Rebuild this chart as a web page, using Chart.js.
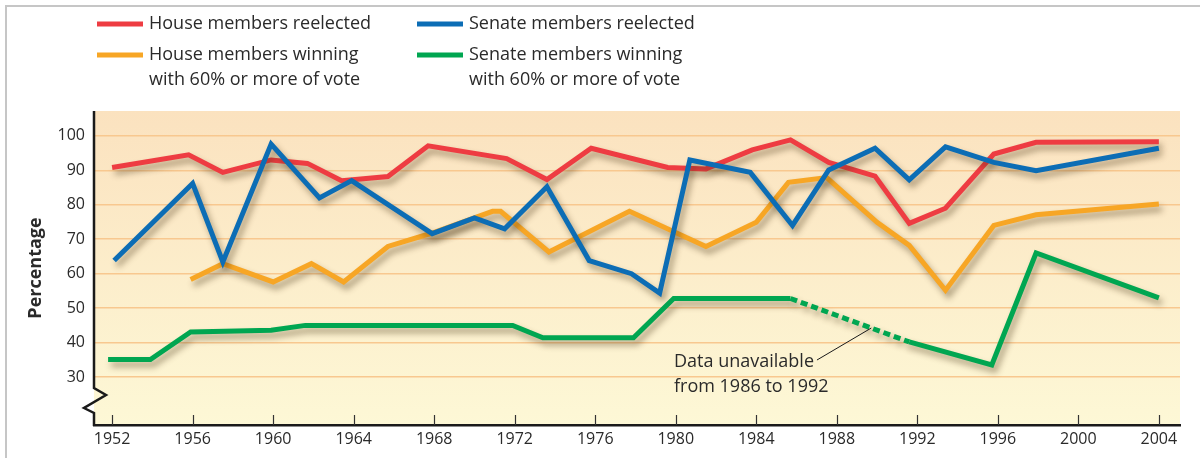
<!DOCTYPE html>
<html>
<head>
<meta charset="utf-8">
<title>Incumbents reelected, 1952-2004</title>
<script src="https://cdn.jsdelivr.net/npm/chart.js@4.4.0/dist/chart.umd.min.js"></script>
<style>
  html, body { margin: 0; padding: 0; background: #fff; }
  #chart { display: block; }
</style>
</head>
<body>
<canvas id="chart" width="1200" height="458"></canvas>
<script>
const FONT = "'Open Sans', sans-serif";
const INK = '#2a2a2a';

const xTicks = [1952, 1956, 1960, 1964, 1968, 1972, 1976, 1980, 1984, 1988, 1992, 1996, 2000, 2004];
const yTicks = [30, 40, 50, 60, 70, 80, 90, 100];

// House members reelected
const houseYears = [1952, 1955.8, 1957.5, 1959.9, 1961.7, 1963.4, 1965.7, 1967.7, 1971.6, 1973.6, 1975.8,
  1979.6, 1981.5, 1983.8, 1985.7, 1987.6, 1989.9, 1991.6, 1993.4, 1995.8, 1997.9, 2004];
const houseReelected = [90.8, 94.5, 89.4, 93, 92, 87, 88.2, 97.1, 93.4, 87.3, 96.4,
  90.8, 90.4, 95.9, 98.8, 92.3, 88.3, 74.6, 79, 94.7, 98.1, 98.3];

// House members winning with 60% or more
const houseSafeYears = [1955.9, 1957.5, 1960, 1961.9, 1963.5, 1965.7, 1967.9, 1970.9, 1971.3, 1973.7, 1977.7,
  1981.5, 1984, 1985.6, 1987.5, 1990, 1991.6, 1993.4, 1995.8, 1997.9, 2004];
const houseSafe = [58.3, 62.9, 57.6, 62.9, 57.6, 67.9, 71.8, 78.1, 78.1, 66.3, 78.1,
  67.9, 74.9, 86.5, 87.9, 74.9, 68.2, 55.2, 74, 77.1, 80.2];

// Senate members reelected
const senateYears = [1952.1, 1956, 1957.5, 1959.9, 1962.3, 1963.9, 1967.9, 1970, 1971.5, 1973.6, 1975.7,
  1977.8, 1979.2, 1980.7, 1983.7, 1985.8, 1987.6, 1989.9, 1991.6, 1993.4, 1995.8, 1997.9, 2004];
const senateReelected = [63.8, 86.2, 63.4, 97.6, 82, 87, 71.6, 76.2, 73, 85.2, 63.8,
  60, 54.4, 93, 89.4, 74, 90.1, 96.4, 87.2, 96.8, 92.3, 89.9, 96.4];

// Senate members winning with 60% or more (no figures between the two gap years)
const senateSafeYears = [1951.8, 1953.9, 1955.9, 1959.9, 1961.6, 1971.9, 1973.4, 1977.9, 1979.9, 1985.7,
  1991.6, 1995.7, 1997.9, 2004];
const senateSafe = [35.1, 35.1, 43.1, 43.6, 45, 45, 41.4, 41.4, 52.8, 52.8, 40.2, 33.5, 66, 53];
const gapFrom = 1985.7;
const gapTo = 1991.6;

const noteLines = ['Data unavailable', 'from 1986 to 1992'];

const series = [
  { label: ['Senate members reelected'], years: senateYears, values: senateReelected, color: '#0c6db5' },
  { label: ['House members reelected'], years: houseYears, values: houseReelected, color: '#ee3c42' },
  { label: ['House members winning', 'with 60% or more of vote'], years: houseSafeYears, values: houseSafe, color: '#f7a625' },
  { label: ['Senate members winning', 'with 60% or more of vote'], years: senateSafeYears, values: senateSafe, color: '#00a651', gap: true }
];

// legend slot for each series, in the same order
const legendSlots = [[417, 24], [97, 24], [97, 55], [417, 55]];

const decor = {
  id: 'decor',
  beforeDraw(chart) {
    const { ctx, chartArea: a } = chart;
    ctx.save();
    ctx.strokeStyle = '#c6c6c6';
    ctx.lineWidth = 2;
    ctx.beginPath();
    ctx.moveTo(6, chart.height);
    ctx.lineTo(6, 6);
    ctx.lineTo(chart.width, 6);
    ctx.stroke();

    const g = ctx.createLinearGradient(0, a.top, 0, a.bottom);
    g.addColorStop(0, '#fbe2bf');
    g.addColorStop(1, '#fdf8d6');
    ctx.fillStyle = g;
    ctx.fillRect(a.left, a.top, a.right - a.left, a.bottom - a.top);
    ctx.restore();
  },
  beforeDatasetsDraw(chart) {
    const ctx = chart.ctx;
    ctx.save();
    ctx.shadowColor = 'rgba(70, 50, 20, 0.45)';
    ctx.shadowBlur = 6;
    ctx.shadowOffsetX = 3;
    ctx.shadowOffsetY = 5;
  },
  afterDatasetsDraw(chart) {
    chart.ctx.restore();
  },
  afterDraw(chart) {
    const { ctx, chartArea: a, scales } = chart;
    ctx.save();

    // y axis with a break near the bottom
    ctx.strokeStyle = '#1a1a1a';
    ctx.lineWidth = 2.5;
    ctx.lineJoin = 'miter';
    ctx.beginPath();
    ctx.moveTo(a.left, a.top);
    ctx.lineTo(a.left, a.bottom - 37);
    ctx.lineTo(a.left + 12, a.bottom - 30);
    ctx.lineTo(a.left - 10, a.bottom - 17);
    ctx.lineTo(a.left, a.bottom - 12);
    ctx.lineTo(a.left, a.bottom + 1);
    ctx.stroke();

    // tick marks pointing up into the plot
    ctx.lineWidth = 1.2;
    ctx.strokeStyle = '#333';
    xTicks.forEach(v => {
      const px = Math.round(scales.x.getPixelForValue(v)) + 0.5;
      ctx.beginPath();
      ctx.moveTo(px, a.bottom);
      ctx.lineTo(px, a.bottom - 10);
      ctx.stroke();
    });

    // legend
    ctx.font = `18px ${FONT}`;
    ctx.fillStyle = INK;
    ctx.textBaseline = 'middle';
    ctx.textAlign = 'left';
    series.forEach((s, i) => {
      const [lx, ly] = legendSlots[i];
      ctx.strokeStyle = s.color;
      ctx.lineWidth = 5;
      ctx.beginPath();
      ctx.moveTo(lx, ly);
      ctx.lineTo(lx + 46, ly);
      ctx.stroke();
      s.label.forEach((t, j) => ctx.fillText(t, lx + 52, ly + j * 25));
    });

    // note on the missing Senate stretch
    const tx = 674, ty = 362;
    noteLines.forEach((t, j) => ctx.fillText(t, tx, ty + j * 25));
    const meta = chart.getDatasetMeta(3);
    const gi = senateSafeYears.indexOf(gapFrom);
    const p0 = meta.data[gi], p1 = meta.data[gi + 1];
    const f = 0.68;
    const ex = p0.x + (p1.x - p0.x) * f, ey = p0.y + (p1.y - p0.y) * f;
    ctx.strokeStyle = '#1a1a1a';
    ctx.lineWidth = 1;
    ctx.beginPath();
    ctx.moveTo(tx + ctx.measureText(noteLines[0]).width + 3, ty - 2);
    ctx.lineTo(ex, ey);
    ctx.stroke();

    ctx.restore();
  }
};

new Chart(document.getElementById('chart'), {
  type: 'line',
  data: {
    datasets: series.map(s => ({
      label: s.label.join(' '),
      data: s.years.map((yr, i) => ({ x: yr, y: s.values[i] })),
      borderColor: s.color,
      borderWidth: 5,
      pointRadius: 0,
      tension: 0,
      borderJoinStyle: 'miter',
      borderCapStyle: 'butt',
      segment: s.gap ? { borderDash: c => (c.p0.parsed.x === gapFrom && c.p1.parsed.x === gapTo ? [7, 4] : undefined) } : {}
    }))
  },
  options: {
    responsive: false,
    animation: false,
    devicePixelRatio: 1,
    layout: { padding: { left: 0, top: 111, right: 20, bottom: 0 } },
    plugins: { legend: { display: false }, tooltip: { enabled: false } },
    scales: {
      x: {
        type: 'linear',
        min: 1951.1,
        max: 2005.05,
        afterBuildTicks: s => { s.ticks = xTicks.map(v => ({ value: v })); },
        afterFit: s => { s.height = 33; },
        grid: { display: false, drawTicks: false },
        border: { display: true, color: '#1a1a1a', width: 2.5 },
        ticks: {
          padding: 5, color: INK, autoSkip: false, maxRotation: 0,
          font: { family: FONT, size: 16 },
          callback: v => String(v)
        }
      },
      y: {
        min: 16.1,
        max: 107.2,
        afterBuildTicks: s => { s.ticks = yTicks.map(v => ({ value: v })); },
        afterFit: s => { s.width = 94; },
        grid: { color: '#f8c88f', lineWidth: 1.5, drawTicks: false },
        border: { display: false },
        ticks: { padding: 9, color: INK, font: { family: FONT, size: 16 } },
        title: {
          display: true, text: 'Percentage', color: INK,
          font: { family: FONT, size: 18, weight: 'bold' },
          padding: { top: 25, bottom: 0 }
        }
      }
    }
  },
  plugins: [decor]
});
</script>
</body>
</html>
